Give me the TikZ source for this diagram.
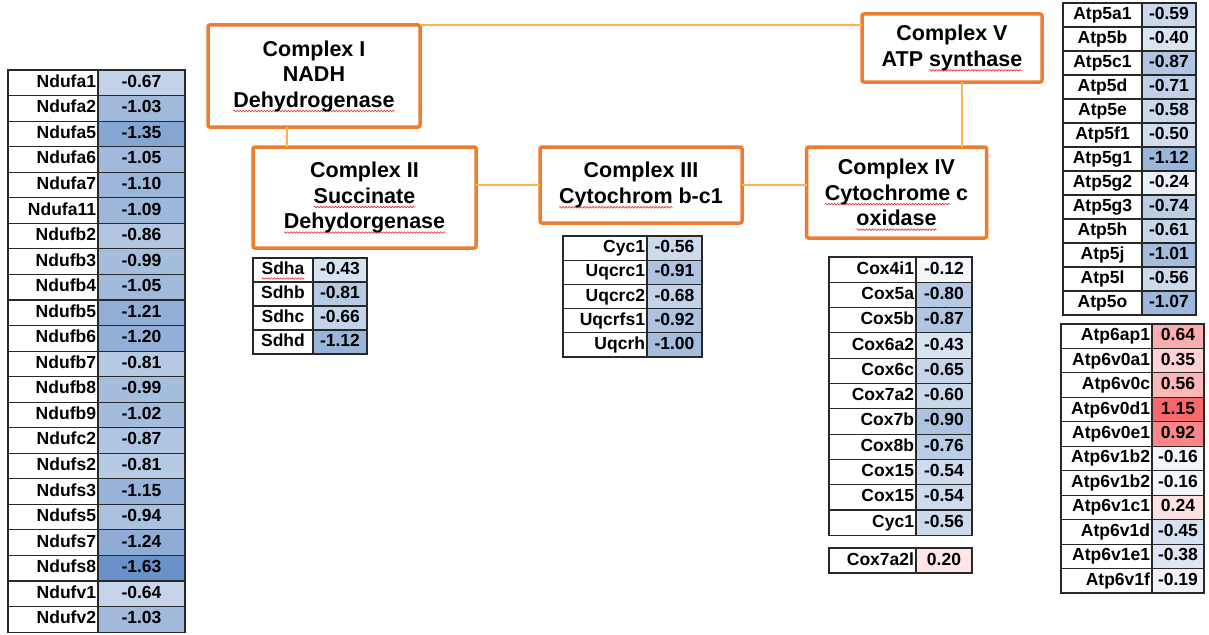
\documentclass[tikz,border=0pt]{standalone}
\usepackage{fontspec}
\setmainfont{Liberation Sans}
\usetikzlibrary{positioning,calc,decorations.pathmorphing}

\definecolor{cxorange}{RGB}{237,125,49}
\definecolor{linkorange}{RGB}{255,182,72}
\definecolor{coolblue}{RGB}{106,146,200}
\definecolor{hotred}{RGB}{248,105,107}
\definecolor{spellred}{RGB}{232,40,40}
\definecolor{gridgray}{RGB}{40,40,40}

\tikzset{
  complexbox/.style={draw=cxorange, line width=3.5pt, rounded corners=2pt, outer sep=0pt, inner sep=0pt,
    align=center, font=\fontsize{21.5}{25.5}\selectfont\bfseries},
  link/.style={draw=linkorange, line width=1.6pt},
  genecell/.style={draw=gridgray, line width=1.1pt, inner xsep=2pt, inner ysep=0pt, outer sep=0pt,
    align=right, font=\fontsize{17.5}{20}\selectfont\bfseries, text height=12.5pt, text depth=3.5pt},
  valcell/.style={genecell},
  squiggle/.style={overlay, draw=spellred, line width=0.6pt, sharp corners, decorate,
    decoration={snake, amplitude=0.8pt, segment length=3pt}}
}

\newlength\spellw
\newcommand{\spell}[1]{\settowidth\spellw{#1}%
  \rlap{\tikz[overlay, baseline=0pt]{\path[squiggle] (0pt,-4pt) -- (\spellw,-4pt);}}#1}

\newcommand{\heat}[1]{%
  \pgfmathtruncatemacro\hpos{#1>0}%
  \ifnum\hpos=1
    \pgfmathtruncatemacro\hp{#1/1.15*100}\edef\hc{hotred!\hp!white}%
  \else
    \pgfmathtruncatemacro\hp{abs(#1)/1.63*100}\edef\hc{coolblue!\hp!white}%
  \fi}

\newcommand{\genetable}[7]{%
  \pgfmathsetmacro\gw{#4-4}%
  \foreach \gname/\gval [count=\gi] in {#7} {%
    \heat{\gval}%
    \node[genecell, text width=\gw pt, minimum height=#6pt, anchor=north west] (#1n\gi) at (#2,{#3+(\gi-1)*#6}) {\gname};
    \node[valcell, minimum width=#5pt, minimum height=#6pt, fill=\hc, right=0pt of #1n\gi] (#1v\gi) {\gval};
  }}

\begin{document}
\begin{tikzpicture}[x=1pt, y=-1pt]
\useasboundingbox (0,0) rectangle (1209,634);

\node[complexbox, minimum width=212pt, minimum height=102pt] (c1) at (314,76) {Complex I\\NADH\\\spell{Dehydrogenase}};
\node[complexbox, minimum width=223pt, minimum height=101pt] (c2) at (364.5,197.5) {Complex II\\\spell{Succinate}\\\spell{Dehydorgenase}};
\node[complexbox, minimum width=202pt, minimum height=76pt] (c3) at (641,185) {Complex III\\\spell{Cytochrom} b-c1};
\node[complexbox, minimum width=180pt, minimum height=91pt] (c4) at (896.5,192.5) {Complex IV\\\spell{Cytochrome} c\\\spell{oxidase}};
\node[complexbox, minimum width=180pt, minimum height=68pt] (c5) at (952,48) {Complex V\\ATP \spell{synthase}};

\coordinate (k12) at ($(c1.south west)!0.373!(c1.south east)$);
\coordinate (k54) at ($(c5.south west)!0.556!(c5.south east)$);
\draw[link] (c1.north east) -- (c1.north east -| c5.west);
\draw[link] (k12) -- (k12 |- c2.north);
\draw[link] (c3.west) -- (c3.west -| c2.east);
\draw[link] (c3.east) -- (c3.east -| c4.west);
\draw[link] (k54) -- (k54 |- c4.north);

\genetable{nd}{8}{70}{90}{87}{25.55}{Ndufa1/-0.67, Ndufa2/-1.03, Ndufa5/-1.35, Ndufa6/-1.05, Ndufa7/-1.10,
  Ndufa11/-1.09, Ndufb2/-0.86, Ndufb3/-0.99, Ndufb4/-1.05, Ndufb5/-1.21, Ndufb6/-1.20, Ndufb7/-0.81,
  Ndufb8/-0.99, Ndufb9/-1.02, Ndufc2/-0.87, Ndufs2/-0.81, Ndufs3/-1.15, Ndufs5/-0.94, Ndufs7/-1.24,
  Ndufs8/-1.63, Ndufv1/-0.64, Ndufv2/-1.03}

\begin{scope}[genecell/.append style={align=center}]
\genetable{sd}{253}{258}{60}{54}{24}{\spell{Sdha}/-0.43, Sdhb/-0.81, Sdhc/-0.66, Sdhd/-1.12}
\genetable{at}{1063}{3}{79}{54}{24}{Atp5a1/-0.59, Atp5b/-0.40, Atp5c1/-0.87, Atp5d/-0.71, Atp5e/-0.58,
  Atp5f1/-0.50, Atp5g1/-1.12, Atp5g2/-0.24, Atp5g3/-0.74, Atp5h/-0.61, Atp5j/-1.01, Atp5l/-0.56, Atp5o/-1.07}
\end{scope}

\genetable{uq}{563}{236}{84}{55}{24.2}{Cyc1/-0.56, Uqcrc1/-0.91, Uqcrc2/-0.68, Uqcrfs1/-0.92, Uqcrh/-1.00}

\genetable{cx}{829}{257}{87}{56}{25.3}{Cox4i1/-0.12, Cox5a/-0.80, Cox5b/-0.87, Cox6a2/-0.43, Cox6c/-0.65,
  Cox7a2/-0.60, Cox7b/-0.90, Cox8b/-0.76, Cox15/-0.54, Cox15/-0.54, Cyc1/-0.56}
\genetable{cy}{829}{548}{87}{56}{25}{Cox7a2l/0.20}

\genetable{av}{1061}{324}{91}{52}{24.45}{Atp6ap1/0.64, Atp6v0a1/0.35, Atp6v0c/0.56, Atp6v0d1/1.15, Atp6v0e1/0.92,
  Atp6v1b2/-0.16, Atp6v1b2/-0.16, Atp6v1c1/0.24, Atp6v1d/-0.45, Atp6v1e1/-0.38, Atp6v1f/-0.19}
\end{tikzpicture}
\end{document}
